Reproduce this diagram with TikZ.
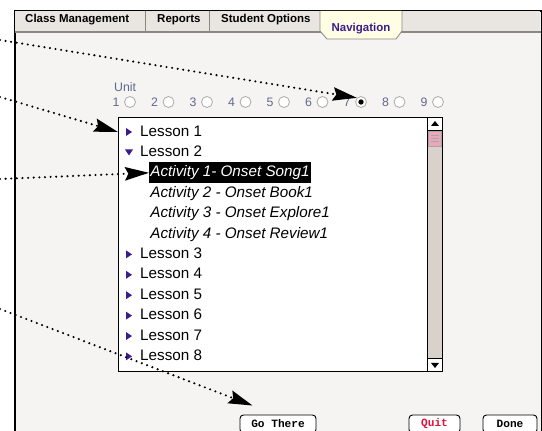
\documentclass[tikz,border=0pt]{standalone}
\usepackage{fontspec}
\setmainfont{Liberation Sans}
\setmonofont{Liberation Mono}
\usetikzlibrary{positioning,arrows.meta}

\definecolor{winbg}{HTML}{F5F4F2}
\definecolor{tabbg}{HTML}{E9E6E2}
\definecolor{tabline}{HTML}{8C8782}
\definecolor{navtab}{HTML}{FFFDE4}
\definecolor{navtext}{HTML}{3A1C8C}
\definecolor{unitgray}{HTML}{5F6A8A}
\definecolor{scrolltrack}{HTML}{D9D2CC}
\definecolor{thumbpink}{HTML}{EBA6BA}
\definecolor{quitred}{HTML}{E0103A}

\tikzset{
  tablabel/.style={font=\bfseries\fontsize{9.8}{11}\selectfont, anchor=west, inner sep=0pt},
  unitnum/.style={font=\fontsize{10.5}{12}\selectfont, text=unitgray, inner sep=0pt},
  radiobtn/.style={circle, draw=gray!65, fill=white, line width=0.7pt,
                   minimum size=0.33cm, inner sep=0pt},
  lessonitem/.style={font=\fontsize{13}{15}\selectfont, anchor=west, inner sep=0pt,
                     text height=10pt, text depth=3pt},
  activityitem/.style={font=\itshape\fontsize{13}{15}\selectfont, anchor=west,
                       inner xsep=1pt, inner ysep=2.5pt, text height=10pt, text depth=3pt},
  macbutton/.style={draw, rounded corners=3pt, line width=0.8pt, fill=white,
                    font=\ttfamily\bfseries\fontsize{9.5}{11}\selectfont,
                    minimum height=0.54cm, inner sep=0pt},
  pointer/.style={line width=2pt, line cap=round, dash pattern=on 0pt off 4.8pt,
                  -{Stealth[length=0.72cm, width=0.4cm, inset=0.1cm]}}
}

\begin{document}
\begin{tikzpicture}[x=0.03cm, y=-0.03cm]
  \useasboundingbox (0,0) rectangle (542,431);
  \clip (0,0) rectangle (542,431);

  % window and tab bar
  \node[draw, line width=1.8pt, fill=winbg, anchor=north west, minimum width=15.81cm,
        minimum height=13cm, inner sep=0pt] (win) at (14,10) {};
  \node[fill=tabbg, anchor=north west, minimum width=15.75cm, minimum height=0.62cm,
        inner sep=0pt] (tabbar) at (15,11) {};
  \draw[tabline, line width=1.2pt] (tabbar.south west) -- (tabbar.south east);
  \foreach \sx in {145,209,320}
    \draw[tabline, line width=0.6pt] (\sx,11) -- (\sx,31);
  \node[tablabel] (tabclass) at (25,20) {Class Management};
  \node[tablabel] (tabreports) at (157,20) {Reports};
  \node[tablabel] (tabstudent) at (221,20) {Student Options};
  \filldraw[fill=navtab, draw=tabline, line width=0.7pt]
    (320,11) -- (320,31) -- (327,39) -- (396,39) -- (402,31) -- (402,11);
  \node[tablabel, anchor=center, text=navtext] (tabnav) at (361,29) {Navigation};

  % unit selector
  \node[unitnum, anchor=west] (unit) at (114,87) {Unit};
  \foreach \n in {1,...,9} {
    \node[radiobtn] (radio\n) at ({130+38.5*(\n-1)},102) {};
    \node[unitnum, left=0.13cm of radio\n] (num\n) {\n};
  }
  \fill (radio7) circle (0.08cm);

  % lesson list with scroll bar
  \node[draw, line width=0.8pt, fill=white, anchor=north west, minimum width=9.72cm,
        minimum height=7.62cm, inner sep=0pt] (list) at (118,117) {};
  \node[draw, line width=0.8pt, fill=scrolltrack, anchor=north east, minimum width=0.45cm,
        minimum height=7.62cm, inner sep=0pt] (scroll) at (list.north east) {};
  \node[draw, line width=0.8pt, fill=white, anchor=north, minimum width=0.45cm,
        minimum height=0.39cm, inner sep=0pt] (scrollup) at (scroll.north) {};
  \fill (scrollup.center) ++(-4,2) -- ++(8,0) -- ++(-4,-5) -- cycle;
  \node[draw=gray!70, fill=thumbpink, anchor=north, minimum width=0.38cm,
        minimum height=0.45cm, inner sep=0pt] (thumb) at (scrollup.south) {};
  \foreach \ty in {-3,0,3}
    \draw[gray!70, line width=0.4pt] ([shift={(-4,\ty)}]thumb.center) -- ++(8,0);
  \node[draw, line width=0.8pt, fill=white, anchor=south, minimum width=0.45cm,
        minimum height=0.39cm, inner sep=0pt] (scrolldown) at (scroll.south) {};
  \fill (scrolldown.center) ++(-4,-2) -- ++(8,0) -- ++(-4,5) -- cycle;

  \node[lessonitem] (l1) at (140,132) {Lesson 1};
  \node[lessonitem] (l2) at (140,152.4) {Lesson 2};
  \node[activityitem, fill=black, text=white] (a1) at (149,172.8) {Activity 1- Onset Song1};
  \node[activityitem] (a2) at (149,193.2) {Activity 2 - Onset Book1};
  \node[activityitem] (a3) at (149,213.6) {Activity 3 - Onset Explore1};
  \node[activityitem] (a4) at (149,234) {Activity 4 - Onset Review1};
  \foreach \n in {3,...,8}
    \node[lessonitem] (l\n) at (140,{254.4+20.4*(\n-3)}) {Lesson \n};
  \foreach \l in {l1,l3,l4,l5,l6,l7,l8}
    \fill[navtext] ([xshift=-0.42cm]\l.west) ++(0,-4) -- ++(0,8) -- ++(6,-4) -- cycle;
  \fill[navtext] ([xshift=-0.45cm]l2.west) ++(0,-3) -- ++(8,0) -- ++(-4,6) -- cycle;

  % buttons
  \node[macbutton, minimum width=2.28cm] (gothere) at (278,424) {Go There};
  \node[macbutton, minimum width=1.53cm, text=quitred] (quit) at (434.5,424) {Quit};
  \node[macbutton, minimum width=1.62cm] (done) at (510,424) {Done};

  % callout pointers
  \coordinate (src1) at (0,40);
  \coordinate (src2) at (0,97);
  \coordinate (src3) at (0,179);
  \coordinate (src4) at (0,309);
  \draw[pointer] (src1) -- (radio7.north west);
  \draw[pointer] (src2) -- (list.west |- l1.west);
  \draw[pointer] (src3) -- (a1.west);
  \draw[pointer] (src4) -- ([shift={(13,-9)}]gothere.north west);
\end{tikzpicture}
\end{document}
